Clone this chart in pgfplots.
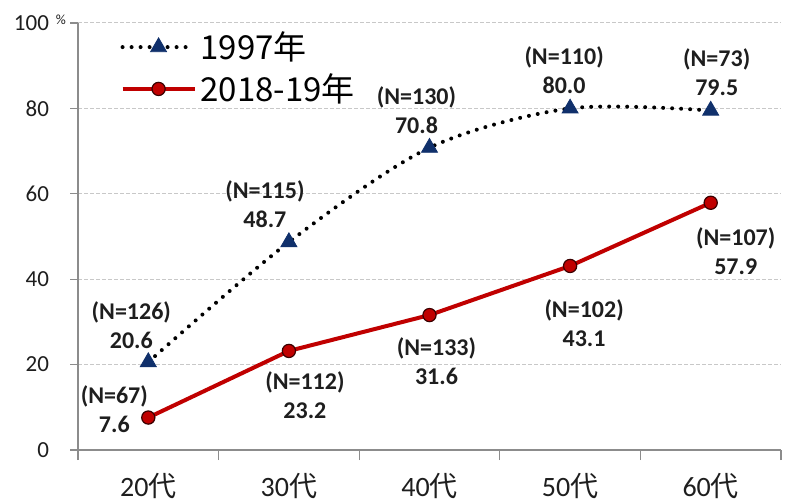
\documentclass[border=0pt]{standalone}
\usepackage{fontspec}
\setmainfont{Carlito}
\newfontfamily\jp{Noto Sans CJK JP}
\usepackage{pgfplots}
\usepackage{pgfplotstable}
\pgfplotsset{compat=1.18}
\pgfkeys{/pgf/number format/assume math mode=true}

\definecolor{navy}{HTML}{10306B}
\definecolor{darkred}{HTML}{C00000}
\definecolor{axisgray}{HTML}{8C8C8C}
\definecolor{gridgray}{HTML}{C8C8C8}
\definecolor{txt}{HTML}{1E1E1E}

% x = age group index, y = percentage, n = sample size, dx/dy = label offset (pt)
\pgfplotstableread{
x y    n   dx    dy
0 20.6 126 -8.5  18.5
1 48.7 115 -12   18.75
2 70.8 130 -6.5  18.5
3 80.0 110 -3    19
4 79.5 73  3     19
}\yearA

\pgfplotstableread{
x y    n   dx    dy
0 7.6  67  -17   4.25
1 23.2 112 8     -22
2 31.6 133 3.5   -23
3 43.1 102 7     -28.75
4 57.9 107 12.5  -24.25
}\yearB

\begin{document}
\begin{tikzpicture}
\begin{axis}[
  scale only axis,
  width=351.5pt, height=213.5pt,
  xmin=-0.5, xmax=4.5, ymin=0, ymax=100,
  clip=false,
  axis lines*=left,
  axis line style={draw=axisgray, line width=0.6pt},
  tick align=outside,
  xtick={0,1,2,3,4},
  xticklabels={20{\jp 代},30{\jp 代},40{\jp 代},50{\jp 代},60{\jp 代}},
  major x tick style={draw=none},
  minor xtick={-0.5,0.5,1.5,2.5,3.5,4.5},
  minor x tick style={draw=axisgray, line width=0.6pt},
  minor tick length=5pt,
  ytick={0,20,40,60,80,100},
  major tick length=4pt,
  y tick style={draw=axisgray, line width=0.6pt},
  ymajorgrids,
  grid style={gridgray, dash pattern=on 2pt off 1pt, line width=0.5pt},
  xticklabel style={font=\fontsize{14}{16}\selectfont, text=txt, yshift=-4pt},
  yticklabel style={font=\fontsize{11.5}{13}\selectfont, text=txt, xshift=-7pt},
  nodes near coords={(N=\pgfmathprintnumber[fixed,precision=0]{\N})\\\pgfmathprintnumber[fixed,zerofill,precision=1]{\pgfplotspointmeta}},
  visualization depends on={\thisrow{n} \as \N},
  visualization depends on={\thisrow{dx} \as \dx},
  visualization depends on={\thisrow{dy} \as \dy},
  every node near coord/.append style={anchor=center, align=center,
    font=\fontsize{12}{14.5}\selectfont\bfseries, text=txt,
    xshift=\dx pt, yshift=\dy pt, inner sep=0pt},
  legend style={draw=none, fill=none, at={(0.06,0.99)}, anchor=north west,
    font=\jp\fontsize{16.5}{19}\selectfont, text=black, row sep=1.5pt, inner sep=0pt,
    cells={anchor=west}},
  legend image code/.code={\draw[mark repeat=2,mark phase=2,#1]
    plot coordinates {(0pt,0pt) (18pt,0pt) (36pt,0pt)};},
]
\addplot[black, line width=2pt, line cap=round, dash pattern=on 0pt off 4.5pt,
  smooth, mark=triangle*, mark size=4.6pt,
  mark options={solid, fill=navy, draw=navy, line width=0.4pt}]
  table[x=x, y=y] {\yearA};
\addlegendentry{1997年}
\addplot[darkred, line width=2pt, mark=*, mark size=3.3pt,
  mark options={solid, fill=darkred, draw=black!70!darkred, line width=0.6pt}]
  table[x=x, y=y] {\yearB};
\addlegendentry{2018-19年}

\coordinate (ll) at (rel axis cs:0,0);
\coordinate (ur) at (rel axis cs:1,1);
\coordinate (tl) at (rel axis cs:0,1);
\end{axis}
\node[font=\fontsize{7}{8}\selectfont, text=txt] at ([shift={(-8.5pt,1.5pt)}]tl) {\%};
\pgfresetboundingbox
\path ([shift={(-39pt,-26pt)}]ll) rectangle ([shift={(4pt,11.5pt)}]ur);
\end{tikzpicture}
\end{document}
